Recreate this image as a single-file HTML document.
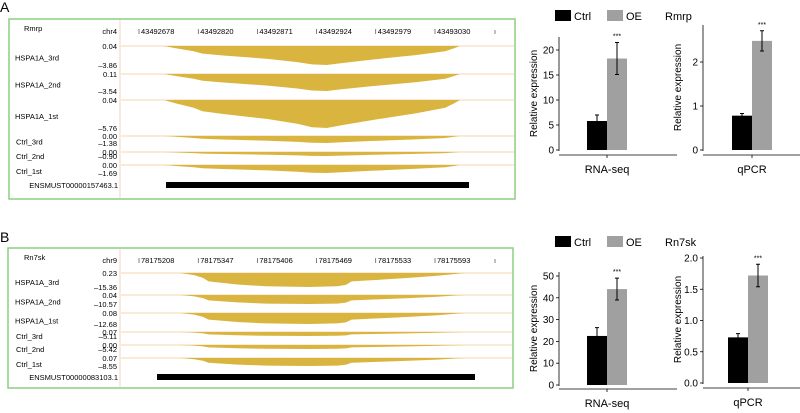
<!DOCTYPE html>
<html><head><meta charset="utf-8"><style>
body{margin:0;background:#fff;}
svg{display:block;font-family:"Liberation Sans",Arial,sans-serif;}
</style></head><body>
<svg id="fig" width="800" height="413" viewBox="0 0 800 413" xmlns="http://www.w3.org/2000/svg">
<text x="0" y="12" font-size="14">A</text>
<text x="0" y="242" font-size="14">B</text>
<g id="gA"></g>
<g id="gB"></g>
<g id="bars"></g>
</svg>
<script>
// ---- data ----
const trackNamesA = ["HSPA1A_3rd","HSPA1A_2nd","HSPA1A_1st","Ctrl_3rd","Ctrl_2nd","Ctrl_1st"];
const trackTopA = ["0.04","0.11","0.04","0.00","0.00","0.00"];
const trackBotA = ["–3.86","–3.54","–5.76","–1.38","–0.90","–1.69"];
const trackNamesB = ["HSPA1A_3rd","HSPA1A_2nd","HSPA1A_1st","Ctrl_3rd","Ctrl_2nd","Ctrl_1st"];
const trackTopB = ["0.23","0.04","0.08","0.07","0.00","0.07"];
const trackBotB = ["–15.36","–10.57","–12.68","–5.11","–5.42","–8.55"];
const coordsA = ["43492678","43492820","43492871","43492924","43492979","43493030"];
const coordsB = ["78175208","78175347","78175406","78175469","78175533","78175593"];
// coverage profile (fraction along region, relative depth)
const profPosA = [0,0.04,0.1,0.13,0.2,0.35,0.45,0.5,0.55,0.6,0.7,0.85,0.95,0.98,1];
const profValA = [0,0.12,0.28,0.4,0.5,0.68,0.85,0.97,1,0.9,0.72,0.48,0.28,0.12,0];
const profPosB = [0,0.05,0.08,0.1,0.2,0.3,0.45,0.55,0.58,0.6,0.7,0.8,0.9,0.97,1];
const profValB = [0,0.15,0.35,0.6,0.82,0.95,1,0.95,0.85,0.6,0.48,0.35,0.2,0.05,0];
// bar chart data
const groups = ["Ctrl","OE"];
const rnaA = [5.8,18.3], rnaAerr=[1.2,3.2];
const qpcrA = [0.78,2.48], qpcrAerr=[0.05,0.23];
const rnaB = [22.5,44], rnaBerr=[3.8,5];
const qpcrB = [0.73,1.72], qpcrBerr=[0.06,0.18];
const ticksRnaA=[0,5,10,15,20], ticksQA=[0,1,2];
const ticksRnaB=[0,10,20,30,40,50], ticksQB=["0.0","0.5","1.0","1.5","2.0"];

const NS="http://www.w3.org/2000/svg";
function mk(p,tag,attrs,txt){const e=document.createElementNS(NS,tag);for(const k in attrs)e.setAttribute(k,attrs[k]);if(txt!==undefined)e.textContent=txt;p.appendChild(e);return e;}

function browser(g,cfg){
  const r=mk(g,"rect",{x:cfg.bx,y:cfg.by,width:cfg.bw,height:cfg.bh,fill:"none",stroke:"#8ccf80","stroke-width":1.5});
  
  
  mk(g,"line",{x1:120,x2:120,y1:cfg.by+1,y2:cfg.by+cfg.bh-1,stroke:"#f0b0a8","stroke-width":0.6});
  const gn=mk(g,"text",{x:24,y:cfg.by+12,"font-size":7.5},cfg.gene);
  
  
  mk(g,"text",{x:117,y:cfg.by+15,"font-size":7.5,"text-anchor":"end"},cfg.chr);
  cfg.coords.forEach((c,i)=>{
    const x=139+i*59.2;
    mk(g,"line",{x1:x,x2:x,y1:cfg.by+10,y2:cfg.by+15,stroke:"#000","stroke-width":0.5});
    const t=mk(g,"text",{x:x+2,y:cfg.by+15,"font-size":7.5},c);
    
    
  });
  mk(g,"line",{x1:495,x2:495,y1:cfg.by+11,y2:cfg.by+15,stroke:"#000","stroke-width":0.5});
  cfg.tops.forEach((y0,i)=>{
    const h=cfg.hts[i];
    mk(g,"line",{x1:121,x2:cfg.bx+cfg.bw-1,y1:y0,y2:y0,stroke:"#f4c890","stroke-width":0.8});
    let d="M"+cfg.x0+","+y0;
    cfg.pos.forEach((p,j)=>{d+=" L"+(cfg.x0+p*(cfg.x1-cfg.x0)).toFixed(1)+","+(y0+cfg.val[j]*h).toFixed(1);});
    d+=" Z";
    const pa=mk(g,"path",{d:d,fill:"#d9b540"});
    
    
    mk(g,"text",{x:117,y:y0+3,"font-size":7.5,"text-anchor":"end"},cfg.topl[i]);
    mk(g,"text",{x:117,y:y0+h+3,"font-size":7.5,"text-anchor":"end"},cfg.botl[i]);
    const nm=mk(g,"text",{x:cfg.nameX[i],y:y0+h/2+5,"font-size":7.5},cfg.names[i]);
    
    
  });
  const gb=mk(g,"rect",{x:cfg.gx0,y:cfg.gy,width:cfg.gx1-cfg.gx0,height:6,fill:"#000"});
  
  
  mk(g,"text",{x:118,y:cfg.gy+6,"font-size":7.5,"text-anchor":"end"},cfg.tx);
}
browser(document.getElementById("gA"),{bx:9,by:19,bw:506,bh:180,gene:"Rmrp",chr:"chr4",coords:coordsA,
  tops:[46,74,100,136,152,165],hts:[19,17,28,7,4,8],x0:164,x1:460,pos:profPosA,val:profValA,
  topl:trackTopA,botl:trackBotA,names:trackNamesA,nameX:[15,15,15,16,16,16],gx0:166,gx1:469,gy:182,tx:"ENSMUST00000157463.1"});
browser(document.getElementById("gB"),{bx:8,by:248,bw:505,bh:140,gene:"Rn7sk",chr:"chr9",coords:coordsB,
  tops:[273,295,313,332,345,358],hts:[14,9,11,4,4,8],x0:180,x1:466,pos:profPosB,val:profValB,
  topl:trackTopB,botl:trackBotB,names:trackNamesB,nameX:[15,15,15,16,16,16],gx0:157,gx1:475,gy:374,tx:"ENSMUST00000083103.1"});

function barChart(g,o){
  const y=v=>o.y0-(v-0)*(o.y0-o.yTop)/o.vTop;
  mk(g,"line",{x1:o.ax,x2:o.ax,y1:o.axTop,y2:o.y0+1,stroke:"#000","stroke-width":0.8});
  mk(g,"line",{x1:o.ax,x2:o.ax+118,y1:o.xl,y2:o.xl,stroke:"#000","stroke-width":0.8});
  mk(g,"line",{x1:o.bx+20,x2:o.bx+20,y1:o.xl,y2:o.xl+3,stroke:"#000","stroke-width":0.8});
  o.ticks.forEach(t=>{const v=parseFloat(t),yy=y(v);
    mk(g,"line",{x1:o.ax-3,x2:o.ax,y1:yy,y2:yy,stroke:"#000","stroke-width":0.8});
    mk(g,"text",{x:o.ax-5,y:yy+3.5,"font-size":10,"text-anchor":"end"},t);});
  o.vals.forEach((v,i)=>{
    const x=o.bx+i*20;
    const b=mk(g,"rect",{x:x,y:y(v),width:20,height:o.y0-y(v),fill:i?"#a0a0a0":"#000"});
    
    
    const cx=x+10,e=o.err[i];
    mk(g,"path",{d:`M${cx},${y(v+e)} V${y(v-e)} M${cx-2},${y(v+e)} H${cx+2} M${cx-2},${y(v-e)} H${cx+2}`,stroke:"#000","stroke-width":1,fill:"none"});
  });
  mk(g,"text",{x:o.bx+30,y:y(o.vals[1]+o.err[1])-4,"font-size":7,"text-anchor":"middle"},"***");
  const yl=mk(g,"text",{x:0,y:0,"font-size":10,"text-anchor":"middle",transform:`translate(${o.ax-22},${(o.y0+o.axTop)/2}) rotate(-90)`},"Relative expression");
  
  
  const xl=mk(g,"text",{x:o.bx+20,y:o.xl+18,"font-size":11,"text-anchor":"middle"},o.lab);
  
  
}
function legend(g,y,gene){
  mk(g,"rect",{x:555,y:y-6,width:16,height:11,fill:"#000"});
  mk(g,"text",{x:574,y:y+4,"font-size":11},"Ctrl");
  mk(g,"rect",{x:607,y:y-6,width:16,height:11,fill:"#a0a0a0"});
  mk(g,"text",{x:626,y:y+4,"font-size":11},"OE");
  const t=mk(g,"text",{x:665,y:y+4,"font-size":11},gene);
  
  
}
const G=document.getElementById("bars");
legend(G,16,"Rmrp");legend(G,242,"Rn7sk");
barChart(G,{ax:559,y0:150,yTop:50,vTop:20,axTop:37,xl:155,bx:587,ticks:ticksRnaA.map(String),vals:rnaA,err:rnaAerr,lab:"RNA-seq"});
barChart(G,{ax:703,y0:150,yTop:62,vTop:2,axTop:25,xl:155,bx:732,ticks:ticksQA.map(String),vals:qpcrA,err:qpcrAerr,lab:"qPCR"});
barChart(G,{ax:559,y0:385,yTop:276,vTop:50,axTop:272,xl:389,bx:587,ticks:ticksRnaB.map(String),vals:rnaB,err:rnaBerr,lab:"RNA-seq"});
barChart(G,{ax:703,y0:383,yTop:258,vTop:2,axTop:256,xl:388,bx:728,ticks:ticksQB,vals:qpcrB,err:qpcrBerr,lab:"qPCR"});
</script>
</body></html>
